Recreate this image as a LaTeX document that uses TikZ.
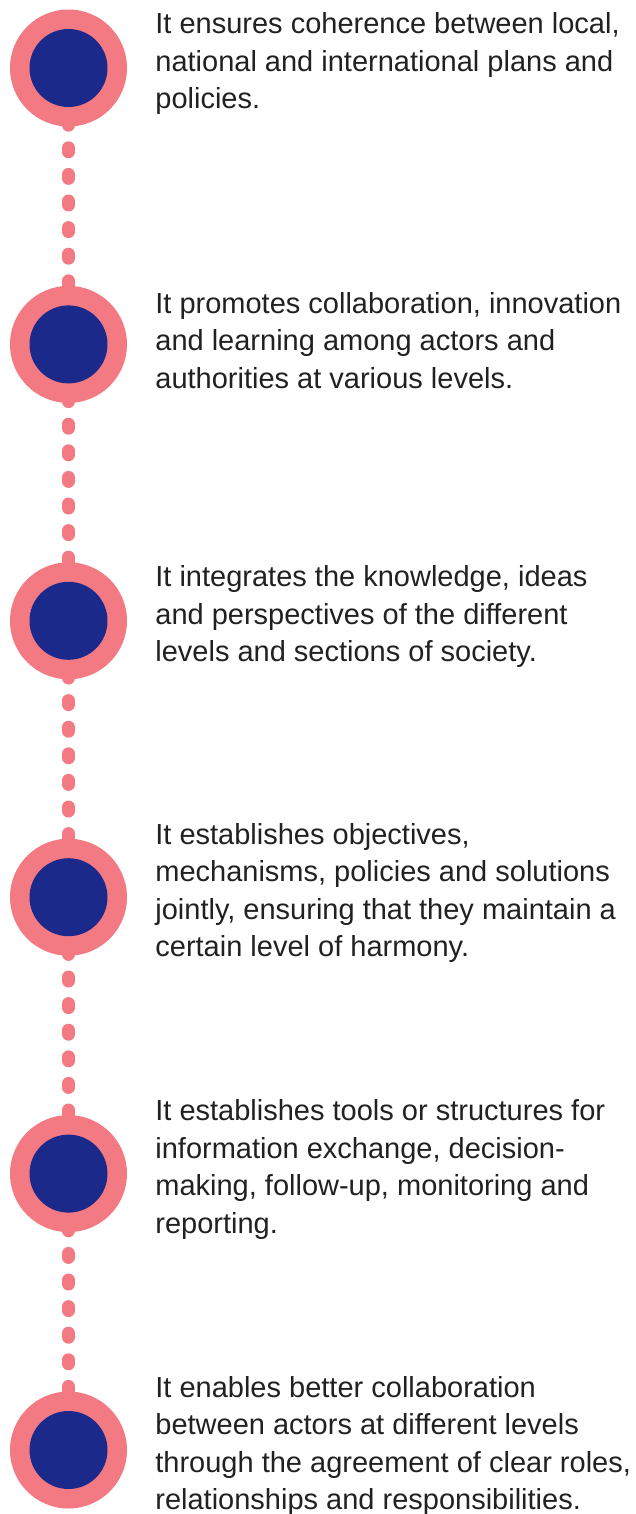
\documentclass[tikz,border=0pt]{standalone}
\usepackage{fontspec}
\setmainfont{Liberation Sans}
\usetikzlibrary{positioning, backgrounds}

\definecolor{pinkring}{RGB}{243,121,131}
\definecolor{navycore}{RGB}{26,41,138}
\definecolor{bodytext}{RGB}{33,33,33}

\begin{document}
\begin{tikzpicture}[x=1pt, y=1pt,
  outer/.style={circle, fill=pinkring, minimum size=117pt, inner sep=0pt},
  core/.style={circle, fill=navycore, minimum size=78pt, inner sep=0pt},
  desc/.style={align=left, inner sep=0pt, text=bodytext, yshift=4pt,
    font=\fontsize{29}{37.5}\selectfont},
  dotline/.style={draw=pinkring, line width=13pt, line cap=round,
    dash pattern=on 4pt off 22.6pt}]
  \useasboundingbox (0,0) rectangle (636,-1514);

  %Define nodes
  \node[outer] (c1) at (68.5,-68) {};
  \node[outer, below=159pt of c1] (c2) {};
  \node[outer, below=159pt of c2] (c3) {};
  \node[outer, below=159pt of c3] (c4) {};
  \node[outer, below=159pt of c4] (c5) {};
  \node[outer, below=159pt of c5] (c6) {};

  \node[core] (i1) at (c1) {};
  \node[core] (i2) at (c2) {};
  \node[core] (i3) at (c3) {};
  \node[core] (i4) at (c4) {};
  \node[core] (i5) at (c5) {};
  \node[core] (i6) at (c6) {};

  \node[desc, right=28pt of c1] (t1) {It ensures coherence between local,\\national and international plans and\\policies.};
  \node[desc, right=28pt of c2] (t2) {It promotes collaboration, innovation\\and learning among actors and\\authorities at various levels.};
  \node[desc, right=28pt of c3] (t3) {It integrates the knowledge, ideas\\and perspectives of the different\\levels and sections of society.};
  \node[desc, right=28pt of c4] (t4) {It establishes objectives,\\mechanisms, policies and solutions\\jointly, ensuring that they maintain a\\certain level of harmony.};
  \node[desc, right=28pt of c5] (t5) {It establishes tools or structures for\\information exchange, decision-\\making, follow-up, monitoring and\\reporting.};
  \node[desc, right=28pt of c6] (t6) {It enables better collaboration\\between actors at different levels\\through the agreement of clear roles,\\relationships and responsibilities.};

  % Connect the nodes
  \begin{scope}[on background layer]
    \draw[dotline] (c1.center) -- (c2.center);
    \draw[dotline] (c2.center) -- (c3.center);
    \draw[dotline] (c3.center) -- (c4.center);
    \draw[dotline] (c4.center) -- (c5.center);
    \draw[dotline] (c5.center) -- (c6.center);
  \end{scope}

\end{tikzpicture}
\end{document}
